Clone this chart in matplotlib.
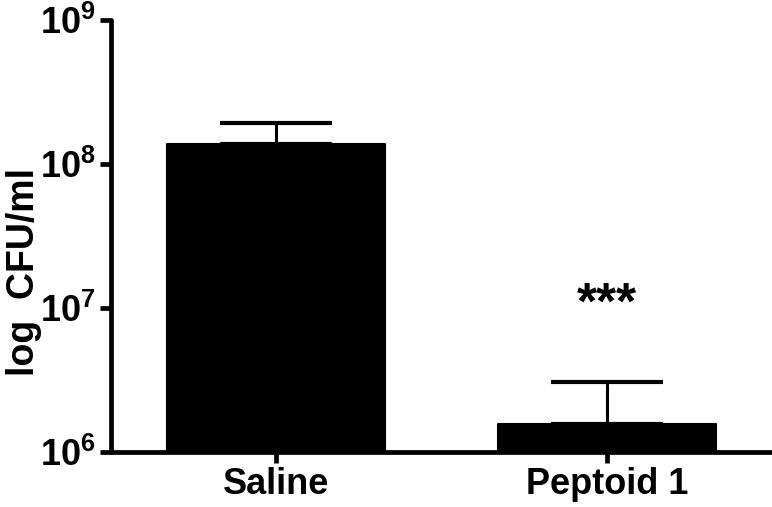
import matplotlib
matplotlib.use("Agg")
import matplotlib.pyplot as plt
from matplotlib.ticker import NullLocator, FixedLocator

plt.rcParams['font.family'] = ['Liberation Sans', 'DejaVu Sans']
plt.rcParams['font.weight'] = 'bold'
plt.rcParams['mathtext.fontset'] = 'custom'
plt.rcParams['mathtext.rm'] = 'Liberation Sans:bold'
plt.rcParams['mathtext.bf'] = 'Liberation Sans:bold'

groups = ['Saline', 'Peptoid 1']
means = [1.37e8, 1.56e6]
upper_err = [0.56e8, 1.5e6]
y_ticks = [1e6, 1e7, 1e8, 1e9]
y_labels = ['$10^{6}$', '$10^{7}$', '$10^{8}$', '$10^{9}$']
star_text = '***'
star_y = 8.4e6

fig = plt.figure(figsize=(7.72, 5.07), dpi=100)
ax = fig.add_axes([0.1438, 0.1085, 0.8562, 0.852])

x = list(range(len(groups)))
ax.bar(x, means, width=0.66, color='black', edgecolor='black', linewidth=1.5,
       joinstyle='round', zorder=2)
ax.errorbar(x, means, yerr=[[0, 0], upper_err], fmt='none', ecolor='black',
            elinewidth=2.2, capsize=40, capthick=3, zorder=1)

ax.text(1, star_y, star_text, ha='center', va='baseline', fontsize=37, fontweight='bold')

ax.set_yscale('log')
ax.set_ylim(1e6, 1e9)
ax.set_xlim(-0.5, 1.5)
ax.yaxis.set_major_locator(FixedLocator(y_ticks))
ax.yaxis.set_minor_locator(NullLocator())
ax.set_yticklabels(y_labels)
ax.set_xticks(x)
ax.set_xticklabels(groups)

for s in ['top', 'right']:
    ax.spines[s].set_visible(False)
for s in ['left', 'bottom']:
    ax.spines[s].set_linewidth(3.4)
    ax.spines[s].set_capstyle('round')

ax.tick_params(axis='both', width=3.4, length=8, labelsize=26, pad=3)
ax.set_ylabel('log  CFU/ml', fontsize=27, fontweight='bold')
ax.yaxis.set_label_coords(-0.104, 0.417)

fig.savefig('out.png', dpi=100)
